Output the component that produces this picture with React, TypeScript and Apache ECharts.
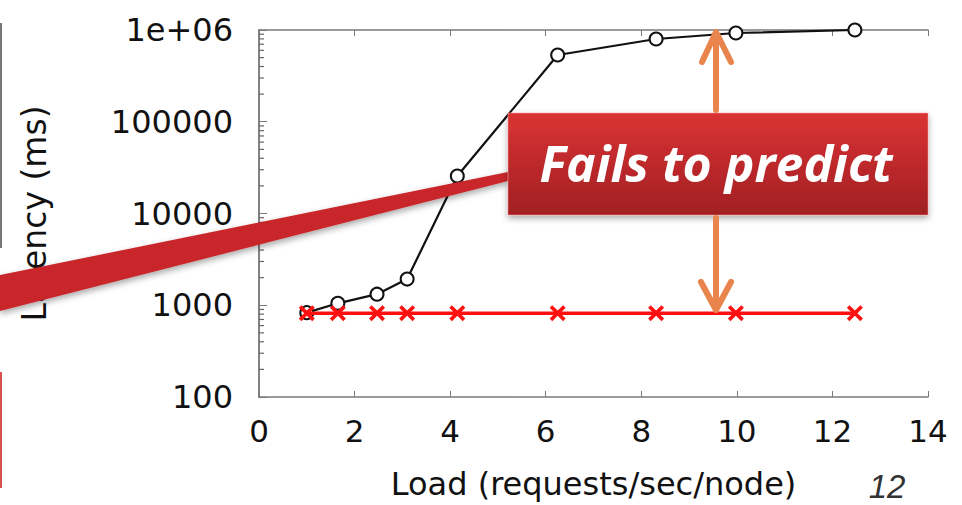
import React, { useEffect, useRef } from "react";
import * as echarts from "echarts";

const xLoad = [1.0, 1.65, 2.47, 3.1, 4.15, 6.25, 8.31, 9.98, 12.47];
const actualLatency = [830, 1050, 1320, 1930, 25600, 534000, 798000, 927000, 1000000];
const predictedLatency = [820, 820, 820, 820, 820, 820, 820, 820, 820];
const minorTickValues = [
  200, 300, 400, 500, 600, 700, 800, 900,
  2000, 3000, 4000, 5000, 6000, 7000, 8000, 9000,
  20000, 30000, 40000, 50000, 60000, 70000, 80000, 90000,
  200000, 300000, 400000, 500000, 600000, 700000, 800000, 900000,
];
const xAxisName = "Load (requests/sec/node)";
const yAxisName = "Latency (ms)";
const calloutText = "Fails to predict";
const pageNumber = "12";

export default function App() {
  const ref = useRef<HTMLDivElement>(null);
  useEffect(() => {
    if (!ref.current) return;
    const chart = echarts.init(ref.current, undefined, { renderer: "svg" });
    const axisColor = "#7a7a7a";
    const font = "DejaVu Sans";
    const orange = "#E8844C";
    chart.setOption({
      animation: false,
      backgroundColor: "#ffffff",
      grid: {
        left: 259,
        right: 34,
        top: 30,
        bottom: 108,
        containLabel: false,
        outerBoundsMode: "none",
      },
      xAxis: [
        {
          type: "value",
          min: 0,
          max: 14,
          interval: 2,
          name: xAxisName,
          nameLocation: "middle",
          nameGap: 71,
          nameTextStyle: { fontFamily: font, fontSize: 32, color: "#111" },
          axisLine: { show: true, lineStyle: { color: axisColor, width: 1.5 } },
          axisTick: { show: true, inside: true, length: 6, lineStyle: { color: axisColor } },
          axisLabel: { fontFamily: font, fontSize: 31, color: "#111", margin: 18 },
          splitLine: { show: false },
        },
        {
          type: "value",
          position: "top",
          min: 0,
          max: 14,
          interval: 2,
          axisLine: { show: true, lineStyle: { color: axisColor, width: 1.5 } },
          axisTick: { show: true, inside: true, length: 6, lineStyle: { color: axisColor } },
          axisLabel: { show: false },
          splitLine: { show: false },
        },
      ],
      yAxis: [
        {
          type: "log",
          logBase: 10,
          min: 100,
          max: 1000000,
          name: yAxisName,
          nameLocation: "middle",
          nameGap: 208,
          nameRotate: 90,
          nameTextStyle: { fontFamily: font, fontSize: 33, color: "#111" },
          axisLine: { show: true, lineStyle: { color: axisColor, width: 1.5 } },
          axisTick: { show: true, inside: true, length: 8, lineStyle: { color: axisColor } },
          axisLabel: {
            fontFamily: font,
            fontSize: 32,
            color: "#111",
            margin: 26,
            formatter: (v: number) => (v >= 1000000 ? "1e+06" : String(Math.round(v))),
          },
          splitLine: { show: false },
        },
        {
          type: "log",
          logBase: 10,
          min: 100,
          max: 1000000,
          position: "right",
          axisLine: { show: true, lineStyle: { color: axisColor, width: 1.5 } },
          axisTick: { show: false },
          axisLabel: { show: false },
          splitLine: { show: false },
        },
      ],
      series: [
        {
          type: "custom",
          silent: true,
          clip: false,
          data: minorTickValues.map((v) => [0, v]),
          renderItem: (params: any, api: any) => {
            const p = api.coord([api.value(0), api.value(1)]);
            return {
              type: "line",
              shape: { x1: p[0], y1: p[1], x2: p[0] + 5, y2: p[1] },
              style: { stroke: "#666", lineWidth: 1.2 },
            };
          },
          z: 5,
        },
        {
          type: "line",
          data: xLoad.map((x, i) => [x, predictedLatency[i]]),
          symbol: "path://M0,1.6 L1.6,0 L5,3.4 L8.4,0 L10,1.6 L6.6,5 L10,8.4 L8.4,10 L5,6.6 L1.6,10 L0,8.4 L3.4,5 Z",
          symbolSize: 16,
          itemStyle: { color: "#ff1010" },
          lineStyle: { color: "#ff1010", width: 3.5 },
          z: 4,
        },
        {
          type: "line",
          data: xLoad.map((x, i) => [x, actualLatency[i]]),
          symbol: "emptyCircle",
          symbolSize: 13,
          itemStyle: { color: "#111", borderColor: "#111", borderWidth: 2.2 },
          lineStyle: { color: "#111", width: 2.2 },
          z: 3,
        },
      ],
      graphic: [
        {
          type: "line",
          z: 100,
          shape: { x1: 1, y1: 23, x2: 1, y2: 248 },
          style: { stroke: "#777", lineWidth: 2 },
        },
        {
          type: "line",
          z: 100,
          shape: { x1: 1, y1: 372, x2: 1, y2: 488 },
          style: { stroke: "#d95050", lineWidth: 2 },
        },
        {
          type: "polygon",
          z: 101,
          shape: { points: [[0, 275], [508, 172], [508, 181], [0, 311]] },
          style: {
            fill: "#c8282b",
            shadowColor: "rgba(0,0,0,0.35)",
            shadowBlur: 6,
            shadowOffsetY: 3,
          },
        },
        {
          type: "rect",
          z: 102,
          shape: { x: 508, y: 113, width: 420, height: 102 },
          style: {
            fill: {
              type: "linear",
              x: 0,
              y: 0,
              x2: 0,
              y2: 1,
              colorStops: [
                { offset: 0, color: "#db3334" },
                { offset: 1, color: "#a01f23" },
              ],
            },
            stroke: "rgba(255,160,160,0.5)",
            lineWidth: 1,
            shadowColor: "rgba(0,0,0,0.35)",
            shadowBlur: 6,
            shadowOffsetY: 3,
          },
        },
        {
          type: "text",
          z: 103,
          x: 716,
          y: 163,
          style: {
            text: calloutText,
            fill: "#ffffff",
            fontFamily: "Open Sans",
            fontStyle: "italic",
            fontWeight: "bold",
            fontSize: 50,
            align: "center",
            verticalAlign: "middle",
          },
        },
        {
          type: "line",
          z: 104,
          shape: { x1: 716, y1: 34, x2: 716, y2: 110 },
          style: { stroke: orange, lineWidth: 6, lineCap: "round" },
        },
        {
          type: "polyline",
          z: 104,
          shape: { points: [[702, 62], [716, 32], [731, 62]] },
          style: { stroke: orange, lineWidth: 6, lineCap: "round", lineJoin: "round", fill: "none" },
        },
        {
          type: "line",
          z: 104,
          shape: { x1: 716, y1: 218, x2: 716, y2: 308 },
          style: { stroke: orange, lineWidth: 6, lineCap: "round" },
        },
        {
          type: "polyline",
          z: 104,
          shape: { points: [[701, 282], [716, 310], [731, 282]] },
          style: { stroke: orange, lineWidth: 6, lineCap: "round", lineJoin: "round", fill: "none" },
        },
        {
          type: "text",
          z: 105,
          x: 887,
          y: 486,
          style: {
            text: pageNumber,
            fill: "#333",
            fontFamily: "Liberation Sans",
            fontStyle: "italic",
            fontSize: 33,
            align: "center",
            verticalAlign: "middle",
          },
        },
      ],
    });
    return () => chart.dispose();
  }, []);
  return (
    <div
      ref={ref}
      style={{ position: "absolute", left: 0, top: 0, width: 962, height: 505 }}
    />
  );
}
